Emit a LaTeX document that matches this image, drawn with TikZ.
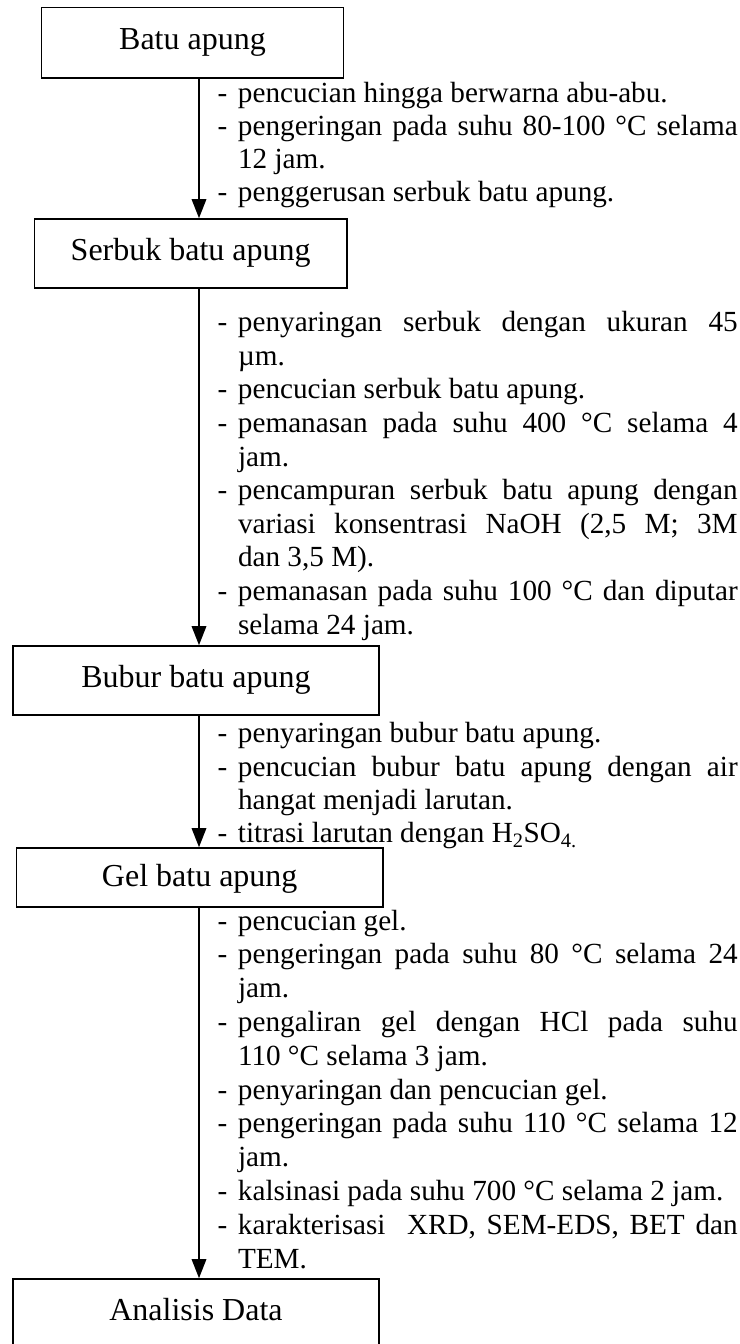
\documentclass[tikz,border=0pt]{standalone}
\usepackage{fontspec}
\setmainfont{Liberation Serif}
\usetikzlibrary{arrows.meta}
% a block of step notes: lines stacked in a vertical box whose baseline is the first line's
\newcommand{\noteblock}[1]{\vtop{\hsize=520pt\relax\frenchspacing\spaceskip=7.3pt plus 20pt minus 3pt\relax #1}}
% justified first line of an item, ragged first line, justified / ragged continuation lines
\newcommand{\firstj}[1]{\hbox to \hsize{\makebox[20.3pt][l]{-}#1}}
\newcommand{\firstr}[1]{\hbox{\makebox[20.3pt][l]{-}#1}}
\newcommand{\contj}[1]{\hbox to \hsize{\hskip20.3pt\relax #1}}
\newcommand{\contr}[1]{\hbox{\hskip20.3pt\relax #1}}
\begin{document}
\begin{tikzpicture}[x=1pt,y=-1pt,
  box/.style={draw, line width=1.6pt, inner sep=0pt, text height=22pt, text depth=8.6pt,
    font=\fontsize{32pt}{36pt}\selectfont},
  flow/.style={-{Triangle[length=19pt,width=14.5pt]}, line width=1.6pt},
  notes/.style={anchor=base west, inner sep=0pt}
]
\useasboundingbox (0,0) rectangle (739,1344);
\coordinate (ax) at (199,0);

\node[box, minimum width=302.3pt, minimum height=70.4pt] (b1) at (192.5,42.5) {Batu apung};
\node[box, minimum width=312.6pt, minimum height=69pt] (b2) at (190.7,253.5) {Serbuk batu apung};
\node[box, minimum width=366.3pt, minimum height=69pt] (b3) at (195.9,680.5) {Bubur batu apung};
\node[box, minimum width=366.3pt, minimum height=59pt, text depth=3.6pt] (b4) at (199.7,877.5) {Gel batu apung};
\node[box, minimum width=366pt, minimum height=69pt] (b5) at (196,1313.5) {Analisis Data};

\draw[flow] (b1.south -| ax) -- (b2.north -| ax);
\draw[flow] (b2.south -| ax) -- (b3.north -| ax);
\draw[flow] (b3.south -| ax) -- (b4.north -| ax);
\draw[flow] (b4.south -| ax) -- (b5.north -| ax);

\node[notes, font=\fontsize{29.2pt}{33.0pt}\selectfont] (t1) at (217.5,102.7) {\noteblock{%
\firstr{pencucian hingga berwarna abu-abu.}
\firstj{pengeringan pada suhu 80-100 °C selama}
\contr{12 jam.}
\firstr{penggerusan serbuk batu apung.}}};

\node[notes, font=\fontsize{29.2pt}{33.6pt}\selectfont] (t2) at (217.5,331.7) {\noteblock{%
\firstj{penyaringan serbuk dengan ukuran 45}
\contr{µm.}
\firstr{pencucian serbuk batu apung.}
\firstj{pemanasan pada suhu 400 °C selama 4}
\contr{jam.}
\firstj{pencampuran serbuk batu apung dengan}
\contj{variasi konsentrasi NaOH (2,5 M; 3M}
\contr{dan 3,5 M).}
\firstj{pemanasan pada suhu 100 °C dan diputar}
\contr{selama 24 jam.}}};

\node[notes, font=\fontsize{29.2pt}{33.3pt}\selectfont] (t3) at (217.5,742.7) {\noteblock{%
\firstr{penyaringan bubur batu apung.}
\firstj{pencucian bubur batu apung dengan air}
\contr{hangat menjadi larutan.}
\firstr{titrasi larutan dengan H\textsubscript{2}SO\textsubscript{4.}}}};

\node[notes, font=\fontsize{29.2pt}{33.8pt}\selectfont] (t4) at (217.5,930) {\noteblock{%
\firstr{pencucian gel.}
\firstj{pengeringan pada suhu 80 °C selama 24}
\contr{jam.}
\firstj{pengaliran gel dengan HCl pada suhu}
\contr{110 °C selama 3 jam.}
\firstr{penyaringan dan pencucian gel.}
\firstj{pengeringan pada suhu 110 °C selama 12}
\contr{jam.}
\firstr{kalsinasi pada suhu 700 °C selama 2 jam.}
\firstj{karakterisasi\ \ XRD, SEM-EDS, BET dan}
\contr{TEM.}}};
\end{tikzpicture}
\end{document}
